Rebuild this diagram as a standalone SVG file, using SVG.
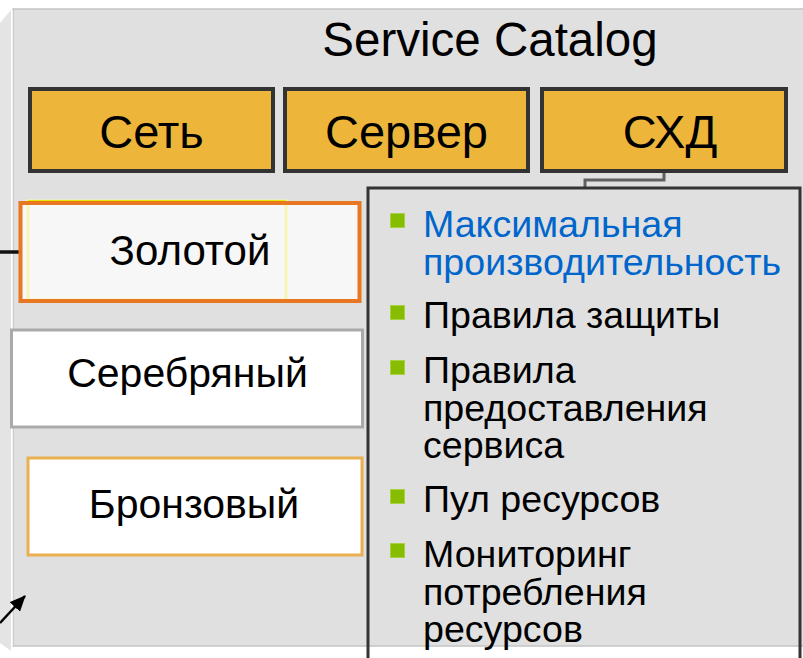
<svg xmlns="http://www.w3.org/2000/svg" width="803" height="658" viewBox="0 0 803 658">
<defs>
<style>
text{font-family:"Liberation Sans",Arial,sans-serif;fill:#000}
.cat{fill:#edb63a;stroke:#333;stroke-width:4}
.catt{font-size:47px;text-anchor:middle}
.lvl{font-size:41px;text-anchor:middle}
.li{font-size:37.6px}
.bul{fill:#86bd00;stroke:#a8d040;stroke-width:1}
</style>
<marker id="ah" markerWidth="16" markerHeight="14" refX="15" refY="7" orient="auto" markerUnits="userSpaceOnUse">
<path d="M0,0 L16,7 L0,14 Z" fill="#000"/>
</marker>
</defs>
<rect width="803" height="658" fill="#fff"/>
<polygon points="0,23 11,10 11,651 0,643" fill="#e4e4e4"/>
<rect x="13" y="9" width="800" height="637" fill="#e0e0e0" stroke="#c4c4c4" stroke-width="1.5"/>
<line x1="12" y1="10" x2="12" y2="646" stroke="#fff" stroke-width="1.5"/>
<text x="490" y="56" font-size="47.5" text-anchor="middle">Service Catalog</text>

<g id="connectors" fill="none">
<polyline points="664,172 664,180 585,180 585,188" stroke="#606060" stroke-width="3"/>
<line x1="0" y1="252" x2="20" y2="252" stroke="#111" stroke-width="3.5"/>
<line x1="0" y1="623" x2="25" y2="596" stroke="#000" stroke-width="2.5" marker-end="url(#ah)"/>
</g>

<g id="node-set">
<rect class="cat" x="30" y="89" width="243" height="82"/>
<text class="catt" x="151.5" y="148">Сеть</text>
</g>
<g id="node-server">
<rect class="cat" x="285" y="89" width="243" height="82"/>
<text class="catt" x="406.5" y="148">Сервер</text>
</g>
<g id="node-shd">
<rect class="cat" x="542" y="89" width="244" height="82"/>
<text class="catt" x="670" y="148">СХД</text>
</g>

<g id="node-gold">
<rect x="20.5" y="203" width="339" height="98" fill="#f7f7f7"/>
<rect x="28" y="201" width="258" height="99" fill="none" stroke="#f5f5b8" stroke-width="3"/>
<line x1="28" y1="201" x2="286" y2="201" stroke="#e8e800" stroke-width="2"/>
<rect x="20.5" y="203" width="339" height="98" fill="none" stroke="#e87722" stroke-width="4"/>
<text class="lvl" x="190" y="265" font-size="42" style="font-size:42px">Золотой</text>
</g>
<g id="node-silver">
<rect x="11.5" y="330" width="351" height="97" fill="#fff" stroke="#aaa" stroke-width="3"/>
<text class="lvl" x="187.5" y="387">Серебряный</text>
</g>
<g id="node-bronze">
<rect x="28" y="458" width="334" height="97" fill="#fff" stroke="#e8b050" stroke-width="3"/>
<text class="lvl" x="194" y="518">Бронзовый</text>
</g>

<g id="node-list">
<path d="M368,660 L368,188 L800,188 L800,660" fill="none" stroke="#333" stroke-width="3"/>
<rect class="bul" x="390.5" y="213.5" width="14" height="14"/>
<text class="li" x="423" y="237" style="fill:#0066cc">Максимальная</text>
<text class="li" x="423" y="275" style="fill:#0066cc">производительность</text>
<rect class="bul" x="390.5" y="305.5" width="14" height="14"/>
<text class="li" x="423" y="328">Правила защиты</text>
<rect class="bul" x="390.5" y="360.5" width="14" height="14"/>
<text class="li" x="423" y="383">Правила</text>
<text class="li" x="423" y="421">предоставления</text>
<text class="li" x="423" y="458">сервиса</text>
<rect class="bul" x="390.5" y="489.5" width="14" height="14"/>
<text class="li" x="423" y="512">Пул ресурсов</text>
<rect class="bul" x="390.5" y="543.5" width="14" height="14"/>
<text class="li" x="423" y="567">Мониторинг</text>
<text class="li" x="423" y="605">потребления</text>
<text class="li" x="423" y="642">ресурсов</text>
</g>
</svg>
